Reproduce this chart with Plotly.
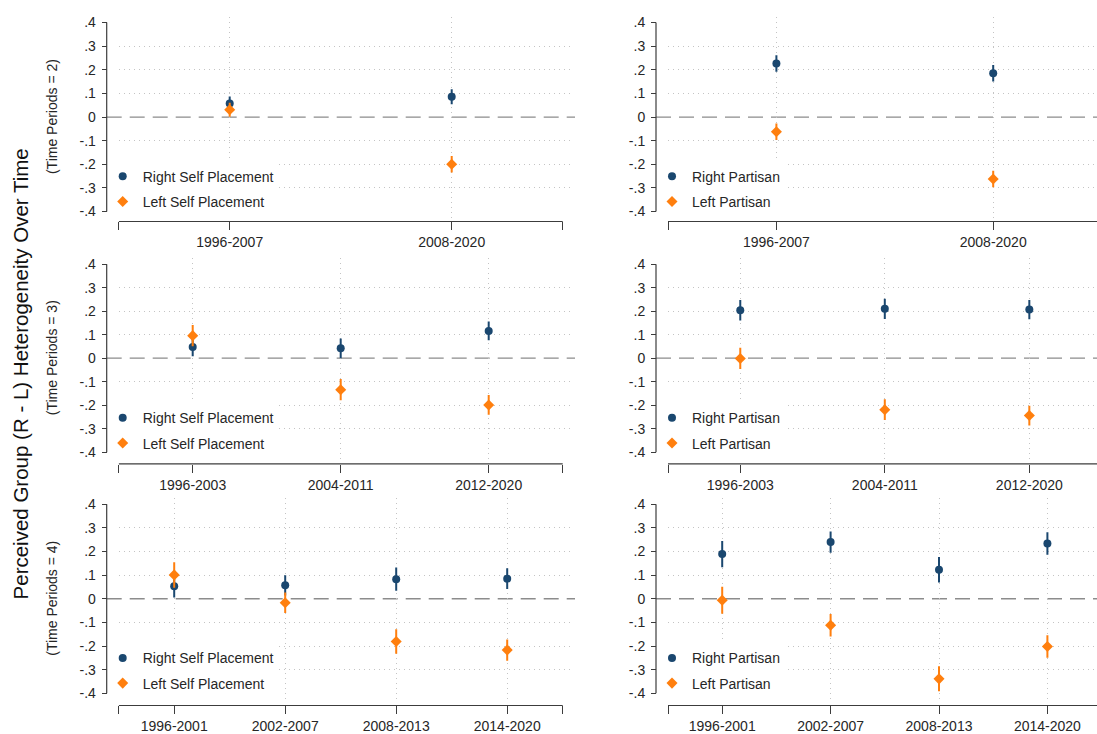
import plotly.graph_objects as go

# ---------------- data ----------------
periods2 = ["1996-2007", "2008-2020"]
periods3 = ["1996-2003", "2004-2011", "2012-2020"]
periods4 = ["1996-2001", "2002-2007", "2008-2013", "2014-2020"]

y_ticks = [-0.4, -0.3, -0.2, -0.1, 0.0, 0.1, 0.2, 0.3, 0.4]
y_ticktext = ["-.4", "-.3", "-.2", "-.1", "0", ".1", ".2", ".3", ".4"]
y_grid = [-0.3, -0.2, -0.1, 0.1, 0.2, 0.3]

# Self placement (left column)
sp2_right = [0.057, 0.086]
sp2_right_ci = [0.030, 0.032]
sp2_left = [0.031, -0.200]
sp2_left_ci = [0.030, 0.035]

sp3_right = [0.048, 0.042, 0.116]
sp3_right_ci = [0.040, 0.042, 0.040]
sp3_left = [0.096, -0.134, -0.199]
sp3_left_ci = [0.045, 0.045, 0.042]

sp4_right = [0.053, 0.057, 0.083, 0.085]
sp4_right_ci = [0.048, 0.043, 0.049, 0.044]
sp4_left = [0.101, -0.017, -0.181, -0.217]
sp4_left_ci = [0.054, 0.043, 0.052, 0.045]

# Partisan (right column)
p2_right = [0.227, 0.185]
p2_right_ci = [0.035, 0.035]
p2_left = [-0.062, -0.262]
p2_left_ci = [0.035, 0.035]

p3_right = [0.204, 0.210, 0.207]
p3_right_ci = [0.044, 0.043, 0.041]
p3_left = [-0.001, -0.219, -0.244]
p3_left_ci = [0.045, 0.044, 0.042]

p4_right = [0.189, 0.240, 0.123, 0.234]
p4_right_ci = [0.056, 0.045, 0.054, 0.048]
p4_left = [-0.006, -0.112, -0.339, -0.202]
p4_left_ci = [0.057, 0.048, 0.053, 0.048]

row_subtitles = ["(Time Periods = 2)", "(Time Periods = 3)", "(Time Periods = 4)"]
y_title = "Perceived Group (R - L) Heterogeneity Over Time"

# ---------------- styling / layout ----------------
FONT = "Liberation Sans, Arial, sans-serif"
TXT = "#262626"
AXC = "#3c3c3c"
GRIDC = "#c4c4c4"
NAVY = "#1a476f"
ORANGE = "#ff7f0e"
W, H = 1097, 734


def px_x(p):
    return p / W


def px_y(p):
    return 1 - p / H


top_px = [20.7, 264.0, 505.7]      # pixel row of y = .4
bot_px = [211.0, 453.3, 696.0]     # pixel row of y = -.4
xline_px = [221.0, 465.0, 708.3]   # pixel row of x axis line
yaxis_px = [106.7, 656.0]          # pixel column of y axis
xstart_px = [118.7, 668.0]
grid_end_px = [573.0, 1097.0]
plot_w_px = [444.0, 433.6]

panels = [
    (0, 0, periods2, sp2_right, sp2_right_ci, sp2_left, sp2_left_ci, "Right Self Placement", "Left Self Placement"),
    (0, 1, periods2, p2_right, p2_right_ci, p2_left, p2_left_ci, "Right Partisan", "Left Partisan"),
    (1, 0, periods3, sp3_right, sp3_right_ci, sp3_left, sp3_left_ci, "Right Self Placement", "Left Self Placement"),
    (1, 1, periods3, p3_right, p3_right_ci, p3_left, p3_left_ci, "Right Partisan", "Left Partisan"),
    (2, 0, periods4, sp4_right, sp4_right_ci, sp4_left, sp4_left_ci, "Right Self Placement", "Left Self Placement"),
    (2, 1, periods4, p4_right, p4_right_ci, p4_left, p4_left_ci, "Right Partisan", "Left Partisan"),
]

fig = go.Figure()
layout = {}
shapes = []
annotations = []

for k, (r, c, periods, rv, rci, lv, lci, rname, lname) in enumerate(panels, start=1):
    sfx = "" if k == 1 else str(k)
    xa, ya = "x" + sfx, "y" + sfx
    leg = "legend" + sfx
    n = len(periods)
    xs = list(range(1, n + 1))
    unit = plot_w_px[c] / n
    xr = [0.5, 0.5 + (grid_end_px[c] - xstart_px[c]) / unit]
    e_top, e_bot = 6.0, 7.0
    u = 0.8 / (bot_px[r] - top_px[r])
    yr = [-0.4 - e_bot * u, 0.4 + e_top * u]

    for vals, ci, name, color, sym, size in [
        (rv, rci, rname, NAVY, "circle", 8),
        (lv, lci, lname, ORANGE, "diamond", 8.5),
    ]:
        fig.add_trace(go.Scatter(
            x=xs, y=vals, mode="markers", name=name,
            marker=dict(color=color, symbol=sym, size=size, line=dict(width=0)),
            error_y=dict(type="data", array=ci, visible=True, thickness=2, width=0, color=color),
            xaxis=xa, yaxis=ya, legend=leg, legendgroup=f"{k}-{name}",
            showlegend=True, hoverinfo="x+y",
        ))

    minor_x = [0.5, n + 0.5] if c == 0 else [0.5]
    layout["xaxis" + sfx] = dict(
        domain=[px_x(xstart_px[c]), px_x(grid_end_px[c])],
        range=xr, anchor="free", position=px_y(xline_px[r]),
        tickmode="array", tickvals=xs, ticktext=periods,
        ticks="outside", ticklen=8, tickwidth=1.2, tickcolor=AXC,
        showline=False, zeroline=False,
        showgrid=True, gridcolor=GRIDC, griddash="1px,4px", gridwidth=1,
        minor=dict(tickmode="array", tickvals=minor_x, ticks="outside", ticklen=8,
                   tickwidth=1.2, tickcolor=AXC, showgrid=False),
        tickfont=dict(family=FONT, size=14, color=TXT),
        fixedrange=True,
    )
    layout["yaxis" + sfx] = dict(
        domain=[px_y(bot_px[r] + e_bot), px_y(top_px[r] - e_top)],
        range=yr, anchor="free", position=px_x(yaxis_px[c]),
        tickmode="array", tickvals=y_ticks, ticktext=y_ticktext,
        ticks="outside", ticklen=5, tickwidth=1.2, tickcolor=AXC,
        ticklabelstandoff=3,
        showline=False, zeroline=False, showgrid=False,
        minor=dict(tickmode="array", tickvals=y_grid, ticks="", showgrid=True,
                   gridcolor=GRIDC, griddash="1px,4px", gridwidth=1),
        tickfont=dict(family=FONT, size=14, color=TXT),
        fixedrange=True,
    )
    # y axis line (from -.4 to .4)
    shapes.append(dict(type="line", xref="paper", yref=ya,
                       x0=px_x(yaxis_px[c]), x1=px_x(yaxis_px[c]), y0=-0.4, y1=0.4,
                       line=dict(color=AXC, width=1.2), layer="above"))
    # x axis line (from first to last category half-step)
    shapes.append(dict(type="line", xref=xa, yref="paper",
                       x0=0.5, x1=n + 0.5, y0=px_y(xline_px[r]), y1=px_y(xline_px[r]),
                       line=dict(color=AXC, width=1.2), layer="above"))
    # zero reference line
    shapes.append(dict(type="line", xref="paper", yref=ya,
                       x0=px_x(yaxis_px[c]), x1=px_x(grid_end_px[c] + 2), y0=0, y1=0,
                       line=dict(color="#8c8c8c", width=1.3, dash="15px,8px"), layer="below"))

    layout[leg] = dict(
        x=px_x(yaxis_px[c] + 1), xanchor="left", xref="paper",
        y=px_y(top_px[r] + 139), yanchor="top", yref="paper",
        bgcolor="white", borderwidth=0, indentation=-5,
        font=dict(family=FONT, size=14, color=TXT),
        tracegroupgap=4, itemclick=False, itemdoubleclick=False,
    )

for r in range(3):
    zero_px = (top_px[r] + bot_px[r]) / 2
    annotations.append(dict(text=row_subtitles[r], x=px_x(52), y=px_y(zero_px),
                            xref="paper", yref="paper", showarrow=False, textangle=-90,
                            xanchor="center", yanchor="middle",
                            font=dict(family=FONT, size=14, color=TXT)))

annotations.append(dict(text=y_title, x=px_x(20), y=px_y(375), xref="paper", yref="paper",
                        showarrow=False, textangle=-90, xanchor="center", yanchor="middle",
                        font=dict(family=FONT, size=20.5, color="#111111")))

fig.update_layout(
    width=W, height=H,
    margin=dict(l=0, r=0, t=0, b=0),
    paper_bgcolor="white", plot_bgcolor="rgba(0,0,0,0)",
    font=dict(family=FONT, size=14, color=TXT),
    shapes=shapes, annotations=annotations,
    showlegend=True,
    **layout,
)

fig.write_html("out.html", config={"displayModeBar": False},
               post_script="document.body.style.margin='0';document.body.style.overflow='hidden';")
